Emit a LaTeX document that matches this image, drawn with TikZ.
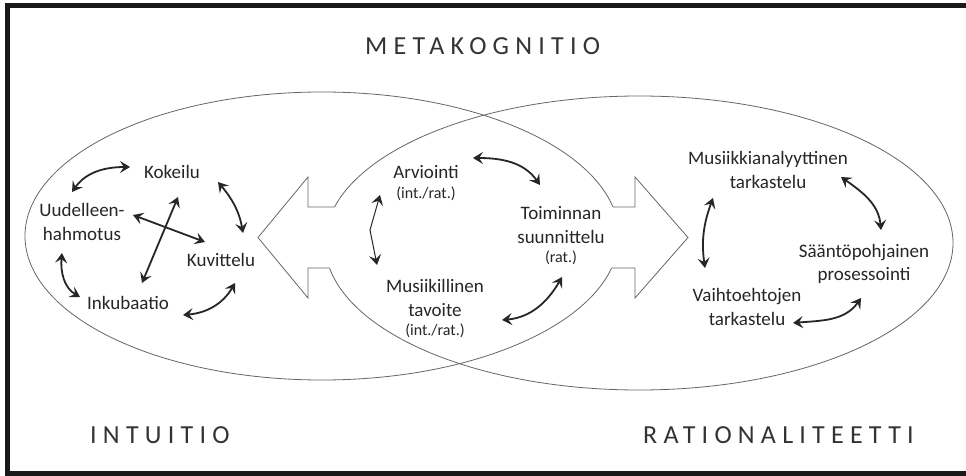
\documentclass[tikz,border=0pt]{standalone}
\usepackage{fontspec}
\setmainfont{Carlito}
\newfontfamily\spacedfont[LetterSpace=24]{Carlito}
\usetikzlibrary{arrows.meta}
\newcommand{\smalltag}[1]{{\fontsize{16}{18}\selectfont #1}}
\tikzset{
	lbl/.style={align=center, text=black!85, inner sep=1pt, font=\fontsize{19}{23.5}\selectfont},
	heading/.style={anchor=base west, inner sep=0pt, text=black!80, font=\spacedfont\fontsize{26}{30}\selectfont},
	dbl/.style={{Stealth[length=10pt,width=12pt,inset=4pt]}-{Stealth[length=10pt,width=12pt,inset=4pt]}, line width=1.8pt, black!85},
	ring/.style={line width=0.8pt, black!60},
	blockarrow/.style={line width=0.8pt, black!60}
}

\begin{document}
\begin{tikzpicture}[x=1pt,y=1pt]
			%%%%% START %%%%%
			\clip (0,0) rectangle (966,475);
			\fill[white] (0,0) rectangle (966,475);
			
			\draw[ring] (322,239) ellipse (297 and 144);
			\draw[ring] (639,232) ellipse (314 and 147);
			
			\fill[white] (342,268) -- (308,268) -- (308,298) -- (258,237.5) -- (308,177) -- (308,207) -- (342,207) -- cycle;
			\draw[blockarrow] (334.5,268) -- (308,268) -- (308,298) -- (258,237.5) -- (308,177) -- (308,207) -- (329.6,207);
			\fill[white] (600,268) -- (635,268) -- (635,298) -- (688,237.5) -- (635,177) -- (635,207) -- (600,207) -- cycle;
			\draw[blockarrow] (613,268) -- (635,268) -- (635,298) -- (688,237.5) -- (635,177) -- (635,207) -- (611.6,207);
			
			\draw[line width=5pt, black!90] (7.5,1.5) rectangle (990,469.5);
			
			\node[heading] (meta) at (365,420) {METAKOGNITIO};
			\node[heading] (intuitio) at (90,32) {INTUITIO};
			\node[heading] (ratio) at (643,32) {RATIONALITEETTI};
			
			\node[lbl] (kokeilu) at (172,303) {Kokeilu};
			\node[lbl] (uudelleen) at (82,253) {Uudelleen-\\hahmotus};
			\node[lbl] (kuvittelu) at (221,215) {Kuvittelu};
			\node[lbl] (inkubaatio) at (128,172) {Inkubaatio};
			
			\node[lbl] (arviointi) at (426,292) {Arviointi\\[-4pt]\smalltag{(int./rat.)}};
			\node[lbl] (toiminnan) at (561,239) {Toiminnan\\suunnittelu\\[-4pt]\smalltag{(rat.)}};
			\node[lbl] (tavoite) at (435,166) {Musiikillinen\\tavoite\\[-4pt]\smalltag{(int./rat.)}};
			
			\node[lbl] (analyysi) at (768,305) {Musiikkianalyyttinen\\tarkastelu};
			\node[lbl] (saanto) at (864,211) {Sääntöpohjainen\\prosessointi};
			\node[lbl] (vaihto) at (747,168) {Vaihtoehtojen\\tarkastelu};
			
			\draw[dbl] ([shift={(-10,30)}]uudelleen.center) to[out=55,in=180] ([shift={(-42,5)}]kokeilu.center);
			\draw[dbl] ([shift={(46,-10)}]kokeilu.center) to[out=-50,in=100] ([shift={(22,27)}]kuvittelu.center);
			\draw[dbl] ([shift={(51,7)}]uudelleen.center) -- ([shift={(-16,18)}]kuvittelu.center);
			\draw[dbl] ([shift={(6,-25)}]kokeilu.center) -- ([shift={(14,20)}]inkubaatio.center);
			\draw[dbl] ([shift={(-20,-31)}]uudelleen.center) to[out=-95,in=150] ([shift={(-48,6)}]inkubaatio.center);
			\draw[dbl] ([shift={(55,-12)}]inkubaatio.center) to[out=5,in=240] ([shift={(14,-23)}]kuvittelu.center);
			
			\draw[dbl] ([shift={(47,25)}]arviointi.center) to[out=0,in=125] ([shift={(-21,51)}]toiminnan.center);
			\draw[dbl, line width=1pt] ([shift={(-46,-12)}]arviointi.center) -- ++(-10,-35) -- ([shift={(-58,44)}]tavoite.center);
			\draw[dbl] ([shift={(67,-11)}]tavoite.center) to[out=5,in=240] ([shift={(1,-41)}]toiminnan.center);
			
			\draw[dbl] ([shift={(-55,-28)}]analyysi.center) to[out=-110,in=98] ([shift={(-42,39)}]vaihto.center);
			\draw[dbl] ([shift={(73,-7)}]analyysi.center) to[out=-35,in=95] ([shift={(17,34)}]saanto.center);
			\draw[dbl] ([shift={(46,-16)}]vaihto.center) to[out=5,in=235] ([shift={(-3,-34)}]saanto.center);
			%%%%% END %%%%%
\end{tikzpicture}
\end{document}
